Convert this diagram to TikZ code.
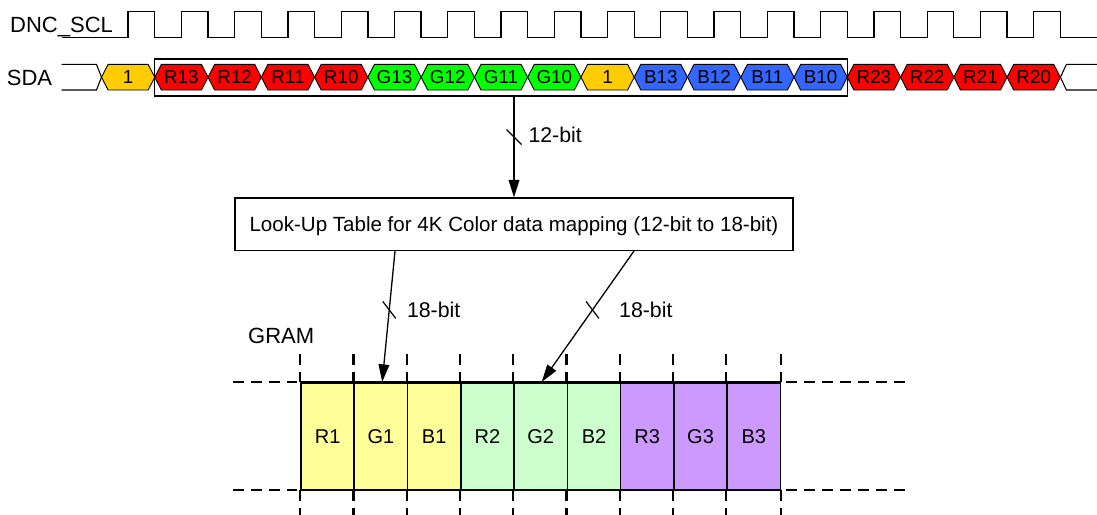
\documentclass[tikz,border=0pt]{standalone}
\usepackage{fontspec}
\setmainfont{Liberation Sans}
\usetikzlibrary{arrows.meta,calc}
\definecolor{hy}{HTML}{FFCC00}
\definecolor{hr}{HTML}{FF0000}
\definecolor{hg}{HTML}{00FF00}
\definecolor{hb}{HTML}{3366FF}
\definecolor{gy}{HTML}{FFFF99}
\definecolor{gg}{HTML}{CCFFCC}
\definecolor{gp}{HTML}{CC99FF}
\begin{document}
\begin{tikzpicture}[x=1pt,y=-1pt,
  lbl/.style={font=\fontsize{22}{26}\selectfont, inner sep=0pt, anchor=base west},
  bitlbl/.style={font=\fontsize{21.3}{25}\selectfont, inner sep=0pt, anchor=base west},
  hexline/.style={draw=black, line width=0.9pt, line join=miter},
  hexlbl/.style={font=\fontsize{18.8}{22}\selectfont, inner sep=0pt, text height=13.4pt, text depth=0pt},
  clk/.style={line width=1.3pt, line join=miter},
  wire/.style={line width=1.1pt},
  arr/.style={line width=1.3pt, -{Triangle[length=17.5pt,width=10.7pt]}},
  slash/.style={line width=1.2pt},
  lutbox/.style={draw, line width=1.3pt, minimum width=558pt, minimum height=52.3pt, inner sep=0pt,
     font=\fontsize{20.55}{24}\selectfont, text height=14.7pt, text depth=0pt},
  gcell/.style={draw, line width=1.6pt, minimum width=53.27pt, minimum height=106.6pt, inner sep=0pt,
     font=\fontsize{20}{24}\selectfont, text height=14.3pt, text depth=0pt},
  dsh/.style={line width=2.2pt, dash pattern=on 10.5pt off 7.5pt}
]
\useasboundingbox (0,0) rectangle (1097,514);

% ---------- labels ----------
\node[lbl] (scl) at (10,32.3) {DNC\_SCL};
\node[lbl] (sda) at (6.7,85) {SDA};

% ---------- clock ----------
\draw[clk] (61.7,37.7)
  \foreach \k in {0,...,17}{
    -- ({101.5+53.27*\k+26.6},37.7) -- ({101.5+53.27*\k+26.6},11.7)
    -- ({101.5+53.27*(\k+1)},11.7) -- ({101.5+53.27*(\k+1)},37.7)}
  -- (1097,37.7);

% ---------- SDA ----------
\draw[wire] (61.7,64.4) -- (96.5,64.4) -- (101.5,77.2) -- (96.5,90) -- (61.7,90);
\draw[wire] (1097,64.4) -- (1066.4,64.4) -- (1060.4,77.2) -- (1066.4,90) -- (1097,90);
\foreach \t/\c [count=\i from 0] in {1/hy,R13/hr,R12/hr,R11/hr,R10/hr,G13/hg,G12/hg,G11/hg,G10/hg,1/hy,B13/hb,B12/hb,B11/hb,B10/hb,R23/hr,R22/hr,R21/hr,R20/hr}{
  \pgfmathsetmacro\xa{101.5+53.27*\i}
  \pgfmathsetmacro\xb{\xa+53.27}
  \pgfmathsetmacro\xm{\xa+26.635}
  \draw[hexline, fill=\c] (\xa,77.2) -- (\xa+6.6,64.4) -- (\xb-6.6,64.4) -- (\xb,77.2) -- (\xb-6.6,90) -- (\xa+6.6,90) -- cycle;
  \node[hexlbl] (s\i) at (\xm,77.2) {\t};
}
\node[draw, line width=1.2pt, minimum width=692.5pt, minimum height=37pt, inner sep=0pt] (grp) at (501.0,77.5) {};

% ---------- LUT ----------
\node[lutbox] (lut) at (514,224.2) {Look-Up Table for 4K Color data mapping (12-bit to 18-bit)};
\coordinate (a12) at (514,96);
\draw[arr] (a12) -- (lut.north);
\draw[slash] ($(a12)!0.405!(lut.north)$) +(-7.5,-7.5) -- +(7.5,7.5);
\node[bitlbl] (b12) at (528.3,142.7) {12-bit};

% ---------- GRAM ----------
\node[lbl] (gram) at (248,343.5) {GRAM};
\foreach \t/\c [count=\i from 0] in {R1/gy,G1/gy,B1/gy,R2/gg,G2/gg,B2/gg,R3/gp,G3/gp,B3/gp}{
  \node[gcell, fill=\c] (g\i) at ({301+53.27*\i+26.635},436) {\t};
}
\draw[line width=2.3pt] (g0.north west) -- (g8.north east);
\draw[line width=2.3pt] (g0.south west) -- (g8.south east);
\draw[dsh] ([xshift=-67pt]g0.north west) -- ([xshift=-3pt]g0.north west);
\draw[dsh] ([xshift=-67pt]g0.south west) -- ([xshift=-3pt]g0.south west);
\draw[dsh] ([xshift=5pt]g8.north east) -- ([xshift=130pt]g8.north east);
\draw[dsh] ([xshift=5pt]g8.south east) -- ([xshift=130pt]g8.south east);
\foreach \i in {0,...,8}{
  \draw[dsh] ([yshift=27.7pt]g\i.north west) -- (g\i.north west);
  \draw[dsh] (g\i.south west) -- ([yshift=-26pt]g\i.south west);
}
\draw[dsh] ([yshift=27.7pt]g8.north east) -- (g8.north east);
\draw[dsh] (g8.south east) -- ([yshift=-26pt]g8.south east);

% ---------- 18-bit arrows ----------
\coordinate (l1) at ([xshift=-119pt]lut.south);
\coordinate (l2) at ([xshift=120pt]lut.south);
\draw[arr] (l1) -- ([xshift=1.3pt]g1.north);
\draw[arr] (l2) -- ([xshift=1pt]g4.north);
\draw[slash] ($(l1)!0.45!([xshift=1.3pt]g1.north)$) +(-6.5,-8.5) -- +(6.5,8.5);
\draw[slash] ($(l2)!0.45!([xshift=1pt]g4.north)$) +(-6.5,-8.5) -- +(6.5,8.5);
\node[bitlbl] (b18a) at (406.8,317.3) {18-bit};
\node[bitlbl] (b18b) at (619,317.3) {18-bit};
\end{tikzpicture}
\end{document}
